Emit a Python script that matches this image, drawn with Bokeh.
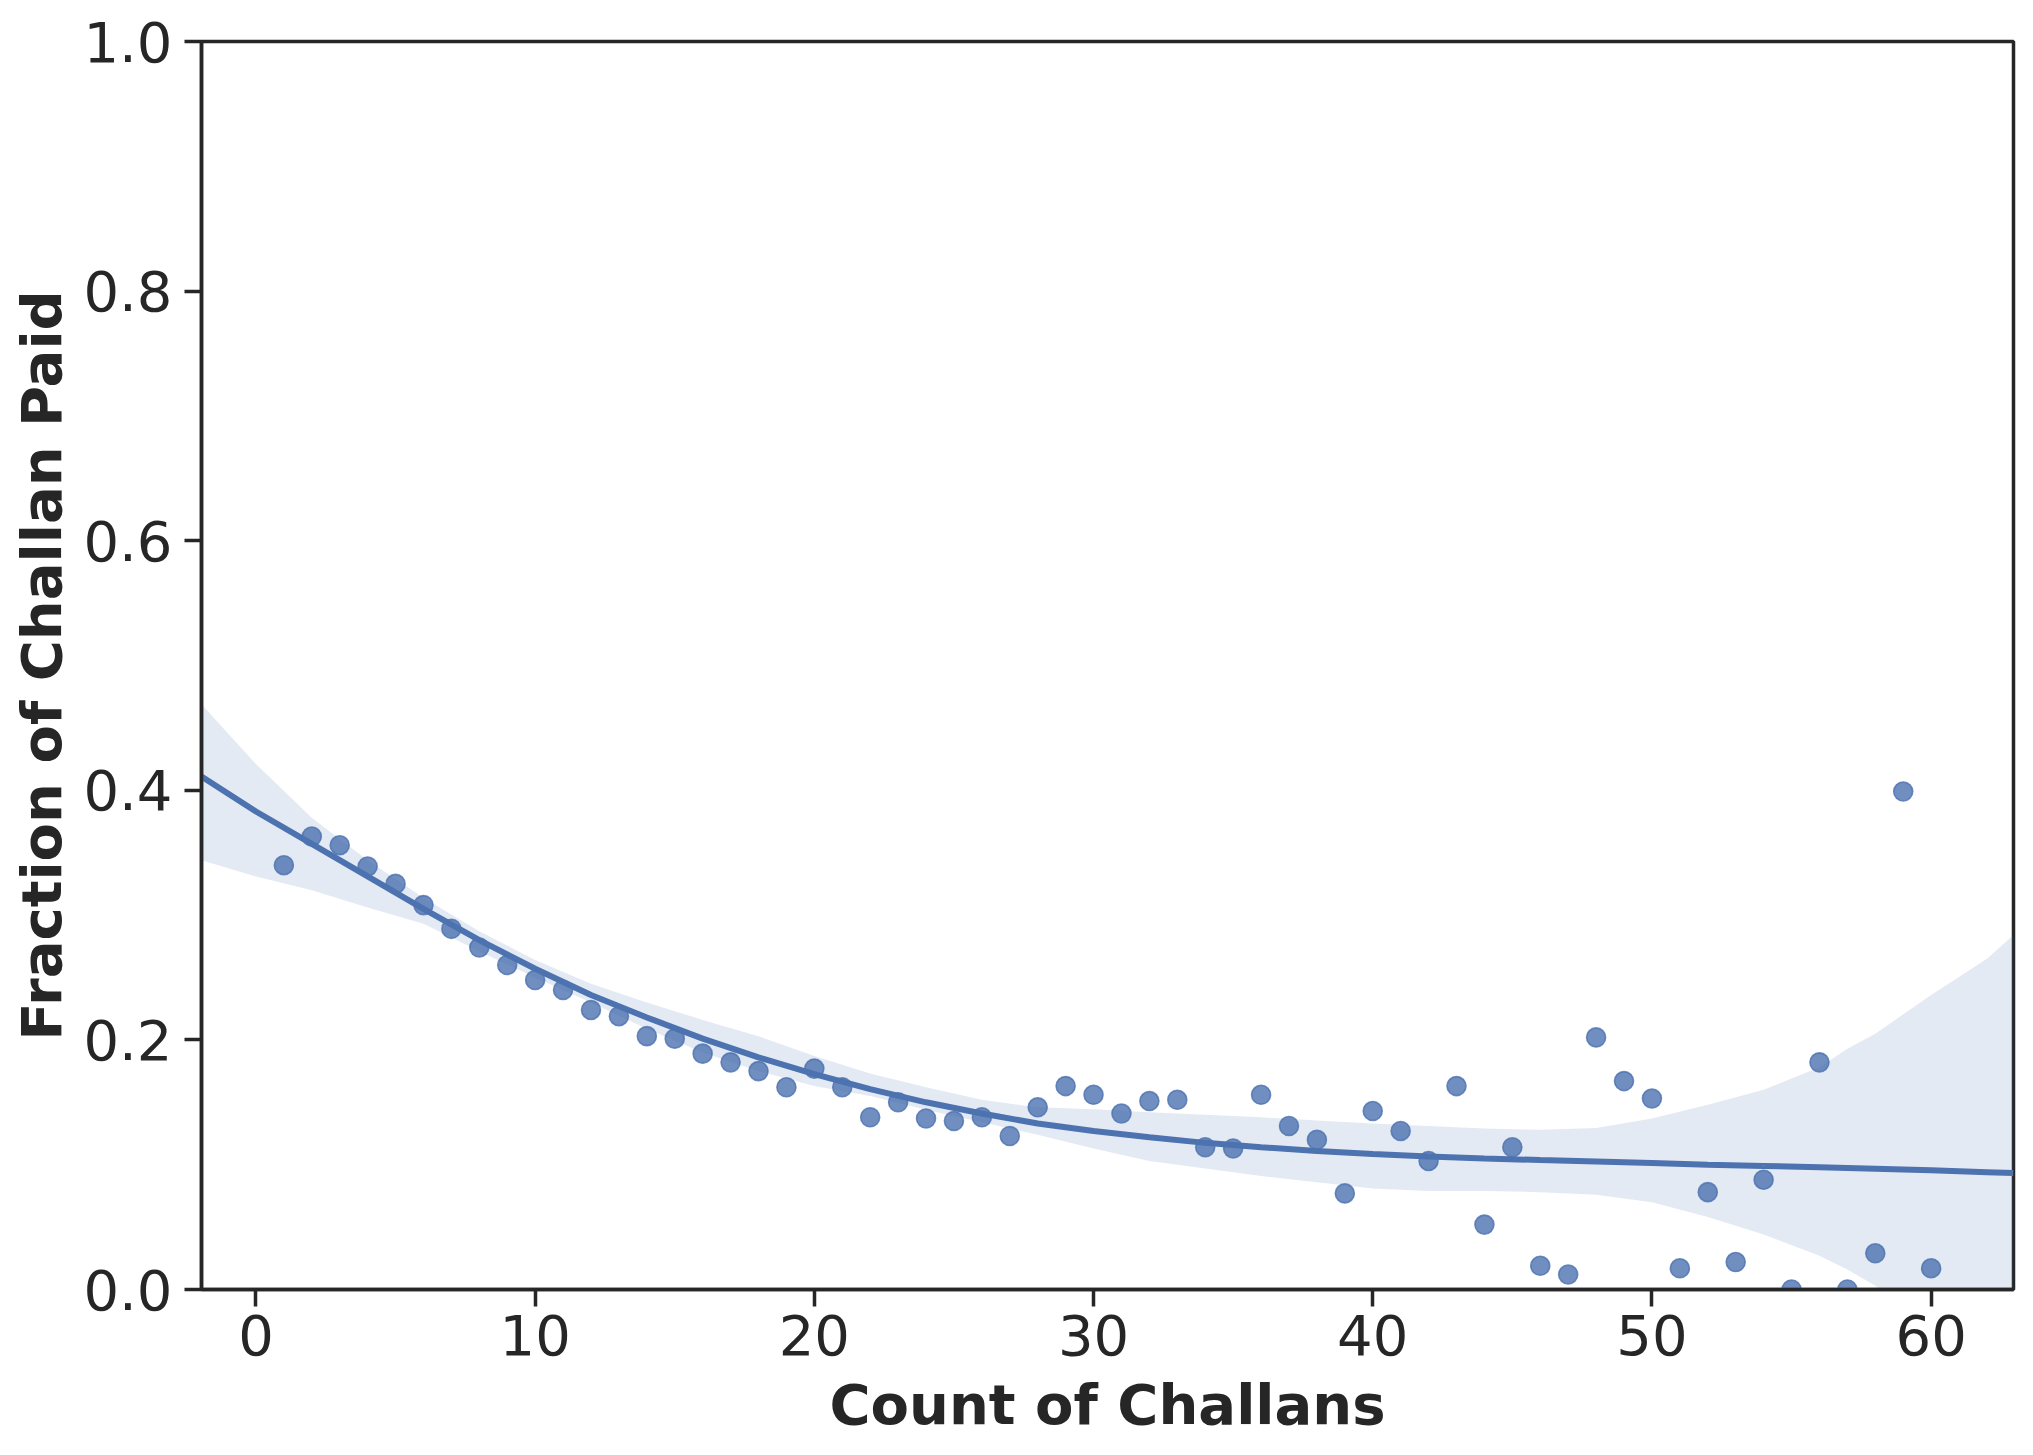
from bokeh.plotting import figure
from bokeh.models import Range1d, FixedTicker, NumeralTickFormatter
from bokeh.embed import file_html
from bokeh.resources import INLINE

# Observed data: count of challans vs fraction paid
count_challans = [1, 2, 3, 4, 5, 6, 7, 8, 9, 10,
                  11, 12, 13, 14, 15, 16, 17, 18, 19, 20,
                  21, 22, 23, 24, 25, 26, 27, 28, 29, 30,
                  31, 32, 33, 34, 35, 36, 37, 38, 39, 40,
                  41, 42, 43, 44, 45, 46, 47, 48, 49, 50,
                  51, 52, 53, 54, 55, 56, 57, 58, 59, 60]
fraction_paid = [0.340, 0.363, 0.356, 0.339, 0.325, 0.308, 0.289, 0.274, 0.260, 0.248,
                 0.240, 0.224, 0.219, 0.203, 0.201, 0.189, 0.182, 0.175, 0.162, 0.177,
                 0.162, 0.138, 0.150, 0.137, 0.135, 0.138, 0.123, 0.146, 0.163, 0.156,
                 0.141, 0.151, 0.152, 0.114, 0.113, 0.156, 0.131, 0.120, 0.077, 0.143,
                 0.127, 0.103, 0.163, 0.052, 0.114, 0.019, 0.012, 0.202, 0.167, 0.153,
                 0.017, 0.078, 0.022, 0.088, 0.000, 0.182, 0.000, 0.029, 0.399, 0.017]

# Regression curve
fit_x = [-1.95, 0, 2, 4, 6, 8, 10, 12, 14, 16, 18, 20, 22, 24, 26, 28, 30, 32, 34, 36,
         38, 40, 42, 44, 46, 48, 50, 52, 54, 56, 58, 60, 62, 62.95]
fit_y = [0.411, 0.383, 0.357, 0.331, 0.305, 0.280, 0.257, 0.236, 0.218, 0.201, 0.186,
         0.1725, 0.1605, 0.150, 0.141, 0.133, 0.127, 0.122, 0.1175, 0.114, 0.111, 0.1085,
         0.1065, 0.105, 0.1037, 0.1025, 0.1013, 0.100, 0.099, 0.098, 0.0968, 0.0955,
         0.094, 0.0933]

# Confidence band edges
band_x = [-1.95, 0, 2, 4, 6, 8, 10, 12, 14, 16, 18, 20, 22, 24, 26, 28, 30, 32, 34, 36,
          38, 40, 42, 44, 46, 48, 50, 52, 54, 56, 57, 58, 60, 62, 62.95]
band_upper = [0.469, 0.421, 0.378, 0.344, 0.314, 0.287, 0.264, 0.245, 0.230, 0.216,
              0.203, 0.187, 0.173, 0.162, 0.152, 0.146, 0.1445, 0.142, 0.140, 0.138,
              0.1355, 0.133, 0.131, 0.129, 0.128, 0.1295, 0.137, 0.148, 0.160, 0.178,
              0.193, 0.205, 0.236, 0.265, 0.284]
band_lower = [0.344, 0.331, 0.320, 0.306, 0.293, 0.271, 0.250, 0.230, 0.209, 0.190,
              0.175, 0.163, 0.155, 0.144, 0.134, 0.124, 0.113, 0.103, 0.097, 0.091,
              0.086, 0.081, 0.079, 0.079, 0.078, 0.076, 0.070, 0.058, 0.044, 0.027,
              0.016, 0.003, -0.030, -0.060, -0.075]

x_ticks = [0, 10, 20, 30, 40, 50, 60]
y_ticks = [0.0, 0.2, 0.4, 0.6, 0.8, 1.0]

BLUE = "#4c72b0"
DARK = "#262626"
FONT = "DejaVu Sans"

p = figure(width=2017, height=1439,
           x_range=Range1d(-1.95, 62.95), y_range=Range1d(0, 1),
           output_backend="svg", toolbar_location=None,
           min_border_left=201, min_border_right=4,
           min_border_top=41, min_border_bottom=149)

p.background_fill_color = "white"
p.border_fill_color = "white"
p.grid.visible = False
p.outline_line_color = DARK
p.outline_line_width = 3.5
p.outline_line_alpha = 1.0

p.scatter(count_challans, fraction_paid, size=19, marker="circle",
          fill_color=BLUE, fill_alpha=0.8, line_color=BLUE, line_alpha=0.8,
          line_width=1.6)
p.varea(x=band_x, y1=band_lower, y2=band_upper, fill_color=BLUE, fill_alpha=0.15)
p.line(fit_x, fit_y, line_color=BLUE, line_width=6)

for ax in (p.xaxis, p.yaxis):
    ax.axis_line_color = DARK
    ax.axis_line_width = 3.5
    ax.major_tick_line_color = DARK
    ax.major_tick_line_width = 3.5
    ax.major_tick_out = 17
    ax.major_tick_in = 0
    ax.minor_tick_out = 0
    ax.minor_tick_in = 0
    ax.major_label_text_font = FONT
    ax.major_label_text_font_size = "56px"
    ax.major_label_text_color = DARK
    ax.axis_label_text_font = FONT
    ax.axis_label_text_font_size = "56px"
    ax.axis_label_text_font_style = "bold"
    ax.axis_label_text_color = DARK

p.xaxis.ticker = FixedTicker(ticks=x_ticks)
p.yaxis.ticker = FixedTicker(ticks=y_ticks)
p.yaxis.formatter = NumeralTickFormatter(format="0.0")
p.xaxis.axis_label = "Count of Challans"
p.yaxis.axis_label = "Fraction of Challan Paid"
p.xaxis.major_label_standoff = 8
p.yaxis.major_label_standoff = 12
p.xaxis.axis_label_standoff = 14
p.yaxis.axis_label_standoff = 6

open("out.html", "w").write(file_html(p, INLINE))
